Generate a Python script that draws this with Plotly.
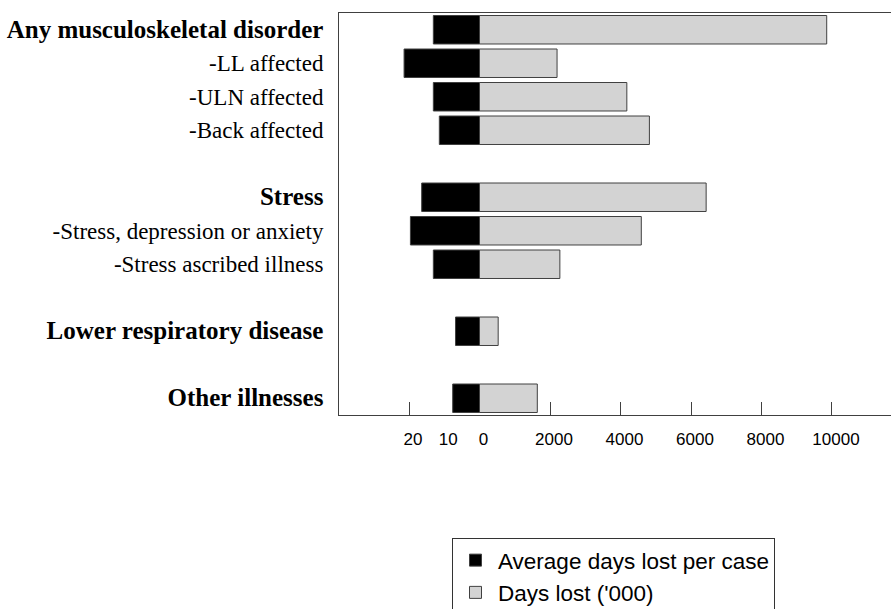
import plotly.graph_objects as go

# ---- data ----
categories = [
    "Any musculoskeletal disorder",
    "LL affected",
    "ULN affected",
    "Back affected",
    "Stress",
    "Stress, depression or anxiety",
    "Stress ascribed illness",
    "Lower respiratory disease",
    "Other illnesses",
]
avg_days_per_case = [13.1, 21.4, 13.1, 11.4, 16.4, 19.6, 13.1, 6.8, 7.6]
days_lost_thousands = [9850, 2200, 4180, 4820, 6430, 4590, 2280, 530, 1640]

header_rows = ["Any musculoskeletal disorder", "Stress",
               "Lower respiratory disease", "Other illnesses"]
# display order top->bottom, None = empty spacer row
row_order = [
    "Any musculoskeletal disorder", "LL affected", "ULN affected", "Back affected",
    None,
    "Stress", "Stress, depression or anxiety", "Stress ascribed illness",
    None,
    "Lower respiratory disease",
    None,
    "Other illnesses",
]
left_tick_values = [20, 10, 0]
left_ticks_marked = [20]
right_tick_values = [2000, 4000, 6000, 8000, 10000]

# 1 day per case is drawn as 100 ('000 days) on the shared horizontal axis
DAY_SCALE = 100

# ---- derived ----
row_pos = [row_order.index(c) for c in categories]
label_rows = [i for i, c in enumerate(row_order) if c is not None]


def fmt(c):
    if c in header_rows:
        return "<b><span style='font-size:25px'>" + c + "</span></b>"
    return "-" + c


label_text = [fmt(row_order[i]) for i in label_rows]

x_min, x_max = -3986, 11674
tick_marks = [-v * DAY_SCALE for v in left_ticks_marked] + right_tick_values
label_vals = [-v * DAY_SCALE for v in left_tick_values] + right_tick_values
label_txt = [str(v) for v in left_tick_values] + [str(v) for v in right_tick_values]

edge = "#404040"

fig = go.Figure()
fig.add_trace(go.Bar(
    y=row_pos,
    x=[-v * DAY_SCALE for v in avg_days_per_case],
    orientation="h",
    name="Average days lost per case",
    marker=dict(color="#000000", line=dict(color=edge, width=1)),
    customdata=[[c, v] for c, v in zip(categories, avg_days_per_case)],
    hovertemplate="%{customdata[0]}: %{customdata[1]} days per case<extra></extra>",
    textposition="none",
    xaxis="x", yaxis="y",
))
fig.add_trace(go.Bar(
    y=row_pos,
    x=days_lost_thousands,
    orientation="h",
    name="Days lost ('000)",
    marker=dict(color="#d3d3d3", line=dict(color=edge, width=1)),
    customdata=categories,
    hovertemplate="%{customdata}: %{x} thousand days<extra></extra>",
    textposition="none",
    xaxis="x2", yaxis="y",
))

fig.update_layout(
    width=891,
    height=609,
    margin=dict(l=339, r=0, t=13, b=194, autoexpand=False),
    paper_bgcolor="white",
    plot_bgcolor="white",
    barmode="overlay",
    bargap=0.15,
    showlegend=True,
    legend=dict(
        xref="container", yref="container",
        x=452 / 891, y=(609 - 538) / 609, xanchor="left", yanchor="top",
        orientation="v", traceorder="normal",
        bordercolor="#333333", borderwidth=1, bgcolor="white",
        font=dict(family="Liberation Sans, Arial, sans-serif", size=22.5, color="black"),
        tracegroupgap=0, itemwidth=35,
    ),
    xaxis=dict(
        range=[x_min, x_max],
        tickmode="array", tickvals=tick_marks,
        ticks="inside", ticklen=13, tickwidth=1, tickcolor=edge,
        showticklabels=False,
        showline=True, linecolor=edge, linewidth=1, mirror=True,
        showgrid=False, zeroline=False, automargin=False,
    ),
    xaxis2=dict(
        overlaying="x", anchor="y", side="bottom",
        range=[x_min, x_max],
        tickmode="array", tickvals=label_vals, ticktext=label_txt,
        ticks="", showline=False, showgrid=False, zeroline=False,
        tickfont=dict(family="Liberation Sans, Arial, sans-serif", size=17, color="black"),
        ticklabelstandoff=12, ticklabelshift=4, automargin=False,
    ),
    yaxis=dict(
        range=[len(row_order) - 0.5, -0.5],
        tickmode="array", tickvals=label_rows, ticktext=label_text,
        ticks="", showline=True, linecolor=edge, linewidth=1, mirror=False,
        showgrid=False, zeroline=False, automargin=False,
        tickfont=dict(family="Liberation Serif, Times New Roman, serif", size=23, color="black"),
        ticklabelstandoff=10,
    ),
)

# remove the page's default body margin so the 891x609 figure fills the window exactly
fig.write_html(
    "out.html",
    config={"displayModeBar": False},
    post_script="document.body.style.margin='0';"
                "document.body.style.overflow='hidden';"
                "document.documentElement.style.overflow='hidden';",
)
